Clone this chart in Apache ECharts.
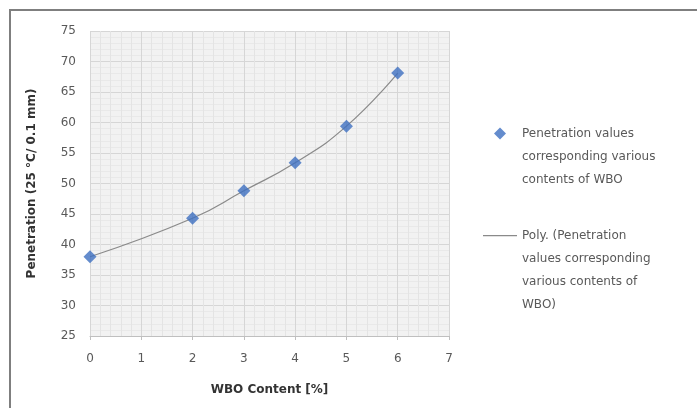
<!DOCTYPE html>
<html><head><meta charset="utf-8">
<script src="https://cdn.jsdelivr.net/npm/echarts@6/dist/echarts.min.js"></script>
<style>html,body{margin:0;padding:0;background:#fff}#c{width:697px;height:408px}</style>
</head><body><div id="c"></div>
<script>
const wboContent = [0, 2, 3, 4, 5, 6];
const penetration = [38.0, 44.3, 48.8, 53.4, 59.4, 68.1];
const xTicks = [0, 1, 2, 3, 4, 5, 6, 7];
const yTicks = [25, 30, 35, 40, 45, 50, 55, 60, 65, 70, 75];
const pointsName = 'Penetration values\ncorresponding various\ncontents of WBO';
const trendName = 'Poly. (Penetration\nvalues corresponding\nvarious contents of\nWBO)';

const pts = wboContent.map((x, i) => [x, penetration[i]]);
const chart = echarts.init(document.getElementById('c'));
const FONT = 'DejaVu Sans, Liberation Sans, Arial';
const lgText = {color: '#595959', fontSize: 12, lineHeight: 23, fontFamily: FONT};
chart.setOption({
  animation: false,
  backgroundColor: '#fff',
  graphic: [
    {type: 'line', shape: {x1: 9, y1: 10, x2: 697, y2: 10}, style: {stroke: '#7f7f7f', lineWidth: 2}},
    {type: 'line', shape: {x1: 10, y1: 9, x2: 10, y2: 408}, style: {stroke: '#7f7f7f', lineWidth: 2}}
  ],
  grid: {left: 90, top: 31, width: 359, height: 305, backgroundColor: '#f2f2f2', show: true, borderWidth: 0},
  legend: [
    {data: [pointsName], left: 483, top: 122, padding: 0, orient: 'vertical',
     icon: 'path://M17,0L23,6L17,12L11,6ZM0,0M34,58', itemWidth: 34, itemHeight: 58, textStyle: lgText},
    {data: [trendName], left: 483, top: 224, padding: 0, orient: 'vertical',
     icon: 'path://M0,0L34,0L34,1.2L0,1.2ZM34,70', itemWidth: 34, itemHeight: 70, textStyle: lgText}
  ],
  xAxis: {
    type: 'value', min: xTicks[0], max: xTicks[xTicks.length - 1], interval: 1,
    name: 'WBO Content [%]', nameLocation: 'middle', nameGap: 48,
    nameTextStyle: {color: '#333', fontSize: 12, fontWeight: 'bold', fontFamily: FONT},
    axisLine: {show: true, lineStyle: {color: '#bfbfbf'}},
    axisTick: {show: true, length: 4, lineStyle: {color: '#bfbfbf'}},
    axisLabel: {color: '#595959', fontSize: 12, margin: 17, fontFamily: FONT},
    splitLine: {show: true, lineStyle: {color: '#d6d6d6', width: 1}},
    minorTick: {show: false, splitNumber: 5},
    minorSplitLine: {show: true, lineStyle: {color: '#e4e4e4', width: 1}}
  },
  yAxis: {
    type: 'value', min: yTicks[0], max: yTicks[yTicks.length - 1], interval: 5,
    name: 'Penetration (25 °C/ 0.1 mm)', nameLocation: 'middle', nameGap: 52,
    nameTextStyle: {color: '#333', fontSize: 12, fontWeight: 'bold', fontFamily: FONT},
    axisLine: {show: false},
    axisTick: {show: false},
    axisLabel: {color: '#595959', fontSize: 12, margin: 14, fontFamily: FONT},
    splitLine: {show: true, lineStyle: {color: '#d6d6d6', width: 1}},
    minorTick: {show: false, splitNumber: 5},
    minorSplitLine: {show: true, lineStyle: {color: '#e9e9e9', width: 1}}
  },
  series: [
    {name: trendName, type: 'line', data: pts, smooth: 0.5, symbol: 'none', showSymbol: false,
     lineStyle: {color: '#8a8a8a', width: 1.2}, itemStyle: {color: '#8a8a8a'}, z: 2},
    {name: pointsName, type: 'scatter', data: pts, symbol: 'diamond', symbolSize: 13,
     itemStyle: {color: '#3d6fc0'}, z: 3}
  ]
});
</script></body></html>
